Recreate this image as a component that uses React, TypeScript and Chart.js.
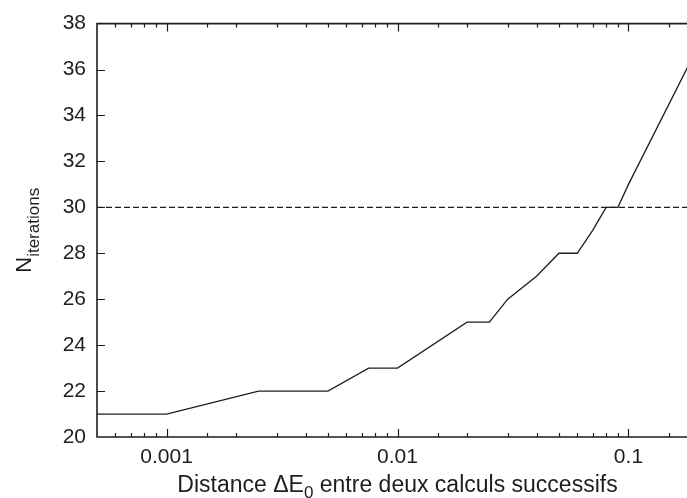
import React, { useEffect, useRef } from 'react';
import { Chart, registerables } from 'chart.js';

Chart.register(...registerables);

// ---- data ----
const distances = [0.0005, 0.001, 0.0025, 0.005, 0.0075, 0.01, 0.02, 0.025, 0.03, 0.04, 0.05, 0.06, 0.07, 0.08, 0.09, 0.1, 0.2];
const iterations = [21, 21, 22, 22, 23, 23, 25, 25, 26, 27, 28, 28, 29, 30, 30, 31, 37];
const thresholdX = [0.0005, 0.2];
const thresholdY = [30, 30];
const xMin = 0.0005;
const xMax = 0.2;
const yMin = 20;
const yMax = 38;
const yStep = 2;
const xTitleMain = 'Distance \u0394E';
const xTitleSub = '0';
const xTitleRest = ' entre deux calculs successifs';
const yTitleMain = 'N';
const yTitleSub = 'iterations';

const INK = '#1e1e1e';
const FONT = "'Liberation Sans', Arial, Helvetica, sans-serif";

const isPow10 = (v: number) => {
  const l = Math.log10(v);
  return Math.abs(l - Math.round(l)) < 1e-6;
};

const framePlugin = {
  id: 'frameAndTitles',
  afterDatasetsDraw(chart: any) {
    const { ctx, chartArea: a, scales } = chart;
    const x = scales.x;
    const y = scales.y;
    ctx.save();
    ctx.strokeStyle = INK;
    ctx.lineWidth = 1.6;
    ctx.beginPath();
    ctx.moveTo(a.left, a.top);
    ctx.lineTo(a.left, a.bottom);
    ctx.lineTo(a.right, a.bottom);
    ctx.lineTo(a.right, a.top);
    ctx.closePath();
    ctx.stroke();

    ctx.lineWidth = 1.2;
    ctx.beginPath();
    x.ticks.forEach((t: any) => {
      const px = Math.round(x.getPixelForValue(t.value)) + 0.5;
      if (px <= a.left + 1 || px >= a.right - 1) return;
      const len = isPow10(t.value) ? 8 : 4;
      ctx.moveTo(px, a.bottom);
      ctx.lineTo(px, a.bottom - len);
      ctx.moveTo(px, a.top);
      ctx.lineTo(px, a.top + len);
    });
    y.ticks.forEach((t: any) => {
      const py = Math.round(y.getPixelForValue(t.value)) + 0.5;
      if (py <= a.top + 1 || py >= a.bottom - 1) return;
      ctx.moveTo(a.left, py);
      ctx.lineTo(a.left + 8, py);
      ctx.moveTo(a.right, py);
      ctx.lineTo(a.right - 8, py);
    });
    ctx.stroke();

    // axis titles with subscripts
    ctx.fillStyle = INK;
    ctx.textBaseline = 'alphabetic';
    ctx.textAlign = 'left';
    const main = `23px ${FONT}`;
    const sub = `17px ${FONT}`;
    const ymain = `22px ${FONT}`;
    const ysub = `17px ${FONT}`;

    // x title
    ctx.font = main;
    const w1 = ctx.measureText(xTitleMain).width;
    const w3 = ctx.measureText(xTitleRest).width;
    ctx.font = sub;
    const w2 = ctx.measureText(xTitleSub).width;
    const total = w1 + w2 + w3;
    const cx = (a.left + a.right) / 2;
    let sx = cx - total / 2;
    const by = 492;
    ctx.font = main;
    ctx.fillText(xTitleMain, sx, by);
    sx += w1;
    ctx.font = sub;
    ctx.fillText(xTitleSub, sx, by + 6);
    sx += w2;
    ctx.font = main;
    ctx.fillText(xTitleRest, sx, by);

    // y title
    ctx.font = ymain;
    const n1 = ctx.measureText(yTitleMain).width;
    ctx.font = ysub;
    const n2 = ctx.measureText(yTitleSub).width;
    const cy = (a.top + a.bottom) / 2;
    ctx.translate(31, cy);
    ctx.rotate(-Math.PI / 2);
    let tx = -(n1 + n2) / 2;
    ctx.font = ymain;
    ctx.fillText(yTitleMain, tx, 0);
    tx += n1;
    ctx.font = ysub;
    ctx.fillText(yTitleSub, tx, 8);
    ctx.restore();
  },
};

export default function App() {
  const ref = useRef<HTMLCanvasElement | null>(null);

  useEffect(() => {
    if (!ref.current) return;
    const chart = new Chart(ref.current, {
      type: 'line',
      data: {
        datasets: [
          {
            data: distances.map((d, i) => ({ x: d, y: iterations[i] })),
            borderColor: INK,
            borderWidth: 1.3,
            pointRadius: 0,
            tension: 0,
            fill: false,
          },
          {
            data: thresholdX.map((d, i) => ({ x: d, y: thresholdY[i] })),
            borderColor: INK,
            borderWidth: 1.2,
            borderDash: [6, 3],
            pointRadius: 0,
            fill: false,
          },
        ],
      },
      options: {
        responsive: false,
        animation: false,
        events: [],
        layout: { padding: { left: 0, top: 23, right: 12, bottom: 0 } },
        plugins: { legend: { display: false }, tooltip: { enabled: false } },
        scales: {
          x: {
            type: 'logarithmic',
            min: xMin,
            max: xMax,
            grid: { display: false, drawTicks: false },
            border: { display: false },
            ticks: {
              autoSkip: false,
              maxRotation: 0,
              padding: 8,
              color: INK,
              font: { family: FONT, size: 21 },
              callback: (v: any) => (isPow10(Number(v)) ? String(Number(v)) : ''),
            },
            afterFit: (s: any) => {
              s.height = 61;
            },
          },
          y: {
            type: 'linear',
            min: yMin,
            max: yMax,
            grid: { display: false, drawTicks: false },
            border: { display: false },
            ticks: {
              stepSize: yStep,
              autoSkip: false,
              padding: 11,
              color: INK,
              font: { family: FONT, size: 21 },
            },
            afterFit: (s: any) => {
              s.width = 97;
            },
          },
        },
      },
      plugins: [framePlugin],
    });
    return () => chart.destroy();
  }, []);

  return (
    <div
      style={{
        position: 'absolute',
        left: 0,
        top: 0,
        width: 687,
        height: 498,
        overflow: 'hidden',
        background: '#fff',
      }}
    >
      <canvas ref={ref} width={710} height={498} style={{ width: 710, height: 498, display: 'block' }} />
    </div>
  );
}
